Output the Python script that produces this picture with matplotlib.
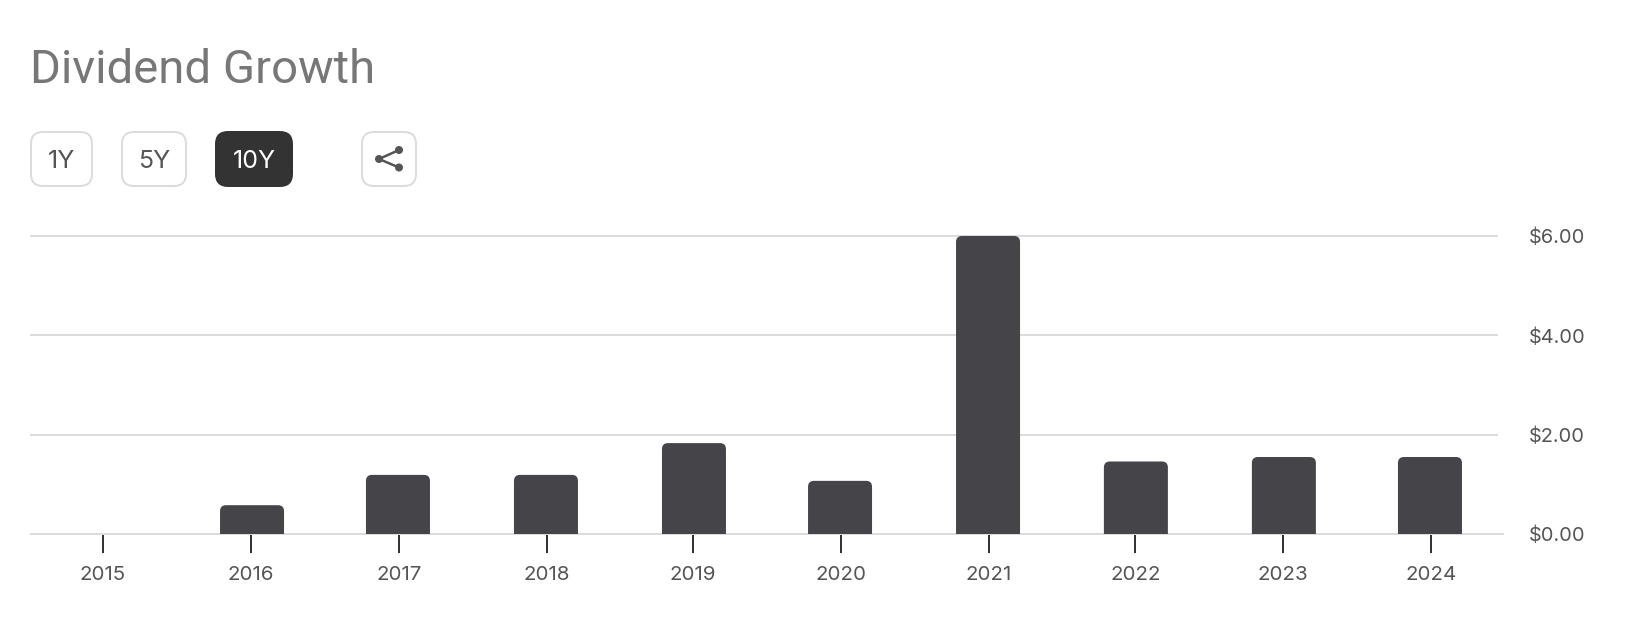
import matplotlib
matplotlib.use("Agg")
import matplotlib.pyplot as plt
from matplotlib.patches import FancyBboxPatch, PathPatch, Circle
from matplotlib.path import Path

plt.rcParams["font.family"] = ["Inter", "DejaVu Sans"]

# ─── Data ─────────────────────────────────────────────────────────────────────
TITLE = "Dividend Growth"
YEARS = ["2015", "2016", "2017", "2018", "2019", "2020", "2021", "2022", "2023", "2024"]
# time axis positions, not quite evenly spaced in the original
TICK_POS = [2015.0, 2016.003, 2017.006, 2018.006, 2018.998, 2020.001, 2021.004, 2021.997, 2022.997, 2024.0]
BAR_POS = [2015.0, 2016.01, 2016.999, 2018.002, 2019.005, 2019.995, 2020.998, 2022.0, 2023.003, 2023.993]
DIVIDENDS = [0.0, 0.58, 1.19, 1.19, 1.83, 1.07, 6.0, 1.46, 1.55, 1.55]
Y_TICKS = [0, 2, 4, 6]
RANGES = ["1Y", "5Y", "10Y"]
ACTIVE = "10Y"

W, H = 1626, 622
BAR_COLOR = "#454448"
GRID_COLOR = "#dcdcdc"
TEXT_COLOR = "#555555"

# chart area in pixels
LEFT, RIGHT, TOP, BOTTOM = 30, 1504, 236, 534
PX_PER_YEAR = (1431 - 103) / 9
BAR_PX = 64
RADIUS_PX = 6


def rounded_bar(ax, x, h, width, rx, ry):
    """Bar with only the top corners rounded."""
    l, r = x - width / 2, x + width / 2
    verts = [(l, 0), (l, h - ry), (l, h), (l + rx, h), (r - rx, h), (r, h), (r, h - ry), (r, 0), (l, 0)]
    codes = [Path.MOVETO, Path.LINETO, Path.CURVE3, Path.CURVE3, Path.LINETO,
             Path.CURVE3, Path.CURVE3, Path.LINETO, Path.CLOSEPOLY]
    ax.add_patch(PathPatch(Path(verts, codes), fc=BAR_COLOR, ec="none", zorder=3))


fig = plt.figure(figsize=(W / 100, H / 100), dpi=100)

# ─── Chart ────────────────────────────────────────────────────────────────────
ax = fig.add_axes([LEFT / W, 1 - BOTTOM / H, (RIGHT - LEFT) / W, (BOTTOM - TOP) / H])
x0 = 2015 - (103 - LEFT) / PX_PER_YEAR
ax.set_xlim(x0, x0 + (RIGHT - LEFT) / PX_PER_YEAR)
ax.set_ylim(0, 6)
for spine in ax.spines.values():
    spine.set_visible(False)
ax.patch.set_alpha(0)

px_per_dollar = (BOTTOM - TOP) / 6
for pos, val in zip(BAR_POS, DIVIDENDS):
    if val > 0:
        rounded_bar(ax, pos, val, BAR_PX / PX_PER_YEAR, RADIUS_PX / PX_PER_YEAR, RADIUS_PX / px_per_dollar)

grid_end = (1498 - LEFT) / (RIGHT - LEFT)
for t in Y_TICKS[1:]:
    ax.axhline(t, xmin=0, xmax=grid_end, color=GRID_COLOR, lw=1.44, zorder=1, clip_on=False,
               solid_capstyle="butt")
ax.axhline(0, color=GRID_COLOR, lw=1.44, zorder=2.5, clip_on=False, solid_capstyle="butt")

ax.set_xticks(TICK_POS)
ax.set_xticklabels(YEARS, fontsize=14.8, color=TEXT_COLOR)
ax.tick_params(axis="x", length=13.7, width=1.44, color="#333333", pad=9.7)
ax.yaxis.tick_right()
ax.set_yticks(Y_TICKS)
ax.set_yticklabels([f"${t:.2f}" for t in Y_TICKS], fontsize=14.4, color=TEXT_COLOR)
ax.tick_params(axis="y", length=0, pad=18)

# ─── Header and buttons, in pixel coordinates ─────────────────────────────────
ui = fig.add_axes([0, 0, 1, 1], zorder=-1)
ui.set_xlim(0, W)
ui.set_ylim(H, 0)
ui.axis("off")

ui.text(30, 83, TITLE, fontsize=34, color="#777777", ha="left", va="baseline", family="Roboto")


def button(x1, x2, label=None, active=False):
    y1, y2 = 132, 186
    ui.add_patch(FancyBboxPatch((x1 + 12, y1 + 12), x2 - x1 - 24, y2 - y1 - 24,
                                boxstyle="round,pad=12,rounding_size=12",
                                fc="#333333" if active else "white",
                                ec="#333333" if active else GRID_COLOR, lw=1.44))
    if label:
        ui.text((x1 + x2) / 2, 168, label, fontsize=18,
                color="white" if active else "#555555", ha="center", va="baseline")


for label, (x1, x2) in zip(RANGES, [(31, 92), (122, 186), (216, 292)]):
    button(x1, x2, label, label == ACTIVE)

# share icon
button(362, 416)
node, top, low = (379, 159), (399, 150), (399, 167.5)
for end in (top, low):
    ui.plot([node[0], end[0]], [node[1], end[1]], color="#555555", lw=1.8)
for c in (node, top, low):
    ui.add_patch(Circle(c, 4, fc="#555555", ec="none"))

fig.savefig("out.png", dpi=100)
